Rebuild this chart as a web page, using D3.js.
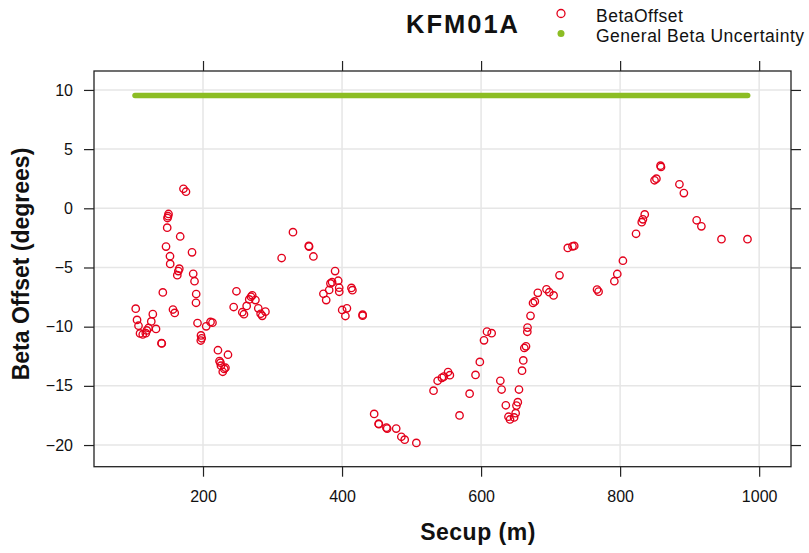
<!DOCTYPE html>
<html>
<head>
<meta charset="utf-8">
<script src="https://cdn.jsdelivr.net/npm/d3@7"></script>
<style>
  html, body { margin: 0; padding: 0; background: #fff; }
  svg { display: block; font-family: "Liberation Sans", Arial, Helvetica, sans-serif; }
</style>
</head>
<body>
<svg id="chart" width="809" height="553"></svg>
<script>
// ---------- data ----------
const title = "KFM01A";
const xLabel = "Secup (m)";
const yLabel = "Beta Offset (degrees)";
const seriesNames = ["BetaOffset", "General Beta Uncertainty"];

const xTicks = [200, 400, 600, 800, 1000];
const yTicks = [-20, -15, -10, -5, 0, 5, 10];
const xLimits = [43.2, 1045.8];
const yLimits = [-21.83, 11.6];

// BetaOffset: secup (m)
const secup = [
  103.2, 105.1, 107.2, 109.4, 113.3, 117.7, 119.2, 121.6, 125.6, 127.8,
  132.4, 140.3, 140.7, 142.2, 146.8, 148.5, 148.9, 149.7, 150.4, 152.5,
  152.8, 156.8, 159.3, 163.0, 164.5, 165.9, 167.2, 171.9, 175.5, 184.2,
  185.9, 187.8, 190.2, 189.9, 192.1, 197.1, 198.1, 196.8, 204.6, 210.8,
  213.6, 221.5, 235.9, 223.7, 225.1, 225.8, 230.6, 228.4, 232.3, 244.1,
  248.1, 256.5, 258.9, 262.8, 266.5, 269.0, 270.8, 275.4, 279.5, 282.9,
  285.2, 289.8, 313.1, 329.4, 352.1, 352.6, 358.8, 373.2, 377.2, 381.5,
  383.3, 385.7, 390.0, 394.5, 395.9, 396.0, 413.5, 414.9, 400.2, 407.0,
  404.8, 429.6, 429.6, 446.2, 452.6, 453.0, 463.8, 464.9, 477.9, 485.3,
  490.1, 506.9, 531.6, 537.5, 543.6, 546.4, 552.5, 555.1, 569.0, 583.5,
  592.0, 598.2, 604.2, 608.5, 615.2, 627.7, 629.5, 635.6, 639.4, 641.6,
  647.5, 649.7, 650.9, 652.8, 654.5, 658.9, 660.7, 662.2, 664.6, 666.5,
  666.8, 671.1, 674.7, 677.3, 681.6, 694.1, 698.1, 704.3, 712.8, 724.7,
  731.5, 734.0, 766.8, 769.0, 791.7, 795.9, 804.0, 822.9, 831.1, 832.8,
  835.4, 849.5, 852.2, 858.1, 858.8, 885.3, 891.7, 910.1, 916.9, 945.8,
  983.2
];
// BetaOffset: offset (degrees)
const betaOffset = [
  -8.48, -9.43, -9.92, -10.57, -10.66, -10.55, -10.32, -10.11, -9.56, -8.94,
  -10.19, -11.39, -11.42, -7.11, -3.23, -1.64, -0.82, -0.67, -0.48, -4.05,
  -4.70, -8.55, -8.84, -5.65, -5.30, -5.10, -2.38, 1.65, 1.40, -3.72,
  -5.53, -6.16, -7.24, -7.98, -9.69, -10.74, -10.98, -11.17, -9.97, -9.60,
  -9.66, -11.99, -12.37, -12.91, -13.04, -13.30, -13.57, -13.81, -13.47, -8.34,
  -7.01, -8.78, -8.95, -8.25, -7.70, -7.47, -7.35, -7.75, -8.45, -8.91,
  -9.08, -8.73, -4.20, -2.02, -3.18, -3.23, -4.07, -7.22, -7.75, -6.90,
  -6.35, -6.24, -5.30, -6.12, -6.71, -7.05, -6.73, -6.92, -8.59, -8.45,
  -9.10, -8.99, -9.07, -17.37, -18.20, -18.24, -18.53, -18.61, -18.61, -19.30,
  -19.55, -19.82, -15.41, -14.57, -14.32, -14.22, -13.83, -14.10, -17.50, -15.66,
  -14.08, -12.98, -11.15, -10.42, -10.55, -14.57, -15.31, -16.64, -17.61, -17.84,
  -17.67, -17.31, -16.67, -16.38, -15.31, -13.72, -12.85, -11.80, -11.66, -10.43,
  -10.08, -9.08, -8.00, -7.87, -7.14, -6.84, -7.09, -7.36, -5.66, -3.35,
  -3.21, -3.18, -6.86, -7.04, -6.16, -5.55, -4.43, -2.15, -1.17, -0.93,
  -0.52, 2.37, 2.50, 3.60, 3.49, 2.03, 1.29, -1.01, -1.52, -2.61,
  -2.61
];
// General Beta Uncertainty: constant band over the logged interval
const uncertaintySecup = [102.2, 983.5];
const uncertaintyValue = [9.53, 9.53];

// ---------- drawing ----------
const svg = d3.select("#chart");
const pLeft = 94, pRight = 791, pTop = 71, pBottom = 466.7;

const x = d3.scaleLinear().domain(xLimits).range([pLeft, pRight]);
const y = d3.scaleLinear().domain(yLimits).range([pBottom, pTop]);

const red = "#e3001b";
const green = "#8cbd24";
const gridColor = "#e6e6e6";

// grid
const grid = svg.append("g");
grid.selectAll("line.gx").data(xTicks).join("line").attr("class", "gx")
  .attr("x1", d => x(d)).attr("x2", d => x(d))
  .attr("y1", pTop).attr("y2", pBottom)
  .attr("stroke", gridColor).attr("stroke-width", 1.5);
grid.selectAll("line.gy").data(yTicks).join("line").attr("class", "gy")
  .attr("x1", pLeft).attr("x2", pRight)
  .attr("y1", d => y(d)).attr("y2", d => y(d))
  .attr("stroke", gridColor).attr("stroke-width", 1.5);

// axes (ticks on all four sides, labels on bottom and left)
const tickLen = 10;
const axB = svg.append("g").attr("transform", `translate(0,${pBottom})`)
  .call(d3.axisBottom(x).tickValues(xTicks).tickSize(tickLen).tickPadding(14).tickFormat(d3.format("d")));
const axT = svg.append("g").attr("transform", `translate(0,${pTop})`)
  .call(d3.axisTop(x).tickValues(xTicks).tickSize(tickLen).tickFormat(""));
const axL = svg.append("g").attr("transform", `translate(${pLeft},0)`)
  .call(d3.axisLeft(y).tickValues(yTicks).tickSize(tickLen).tickPadding(11).tickFormat(d3.format("d")));
const axR = svg.append("g").attr("transform", `translate(${pRight},0)`)
  .call(d3.axisRight(y).tickValues(yTicks).tickSize(tickLen).tickFormat(""));
[axB, axT, axL, axR].forEach(a => {
  a.select(".domain").remove();
  a.selectAll(".tick line").attr("stroke", "#222").attr("stroke-width", 1.2);
  a.selectAll("text").attr("fill", "#111").style("font-size", "16px")
    .style("font-family", "'Liberation Sans', Arial, sans-serif");
});

// frame
svg.append("rect").attr("x", pLeft).attr("y", pTop)
  .attr("width", pRight - pLeft).attr("height", pBottom - pTop)
  .attr("fill", "none").attr("stroke", "#222").attr("stroke-width", 1.3);

// uncertainty band (green)
svg.append("line")
  .attr("x1", x(uncertaintySecup[0])).attr("x2", x(uncertaintySecup[1]))
  .attr("y1", y(uncertaintyValue[0])).attr("y2", y(uncertaintyValue[1]))
  .attr("stroke", green).attr("stroke-width", 5.5).attr("stroke-linecap", "round");

// BetaOffset points
const pts = secup.map((s, i) => ({ s, v: betaOffset[i] }));
svg.append("g").selectAll("circle").data(pts).join("circle")
  .attr("cx", d => x(d.s)).attr("cy", d => y(d.v)).attr("r", 3.7)
  .attr("fill", "none").attr("stroke", red).attr("stroke-width", 1.35);

// title
svg.append("text").attr("x", 463).attr("y", 33).attr("text-anchor", "middle")
  .style("font-size", "25.5px").style("font-weight", "bold").style("letter-spacing", "2px")
  .attr("fill", "#111").text(title);

// legend
const lg = svg.append("g");
lg.append("circle").attr("cx", 561).attr("cy", 13.5).attr("r", 4)
  .attr("fill", "none").attr("stroke", red).attr("stroke-width", 1.3);
lg.append("circle").attr("cx", 561).attr("cy", 33.5).attr("r", 3.5).attr("fill", green);
lg.append("text").attr("x", 596).attr("y", 21.5).style("font-size", "17.5px")
  .style("letter-spacing", "0.5px").attr("fill", "#111").text(seriesNames[0]);
lg.append("text").attr("x", 596).attr("y", 41.5).style("font-size", "17.5px")
  .style("letter-spacing", "0.5px").attr("fill", "#111").text(seriesNames[1]);

// axis labels
svg.append("text").attr("x", 478).attr("y", 540).attr("text-anchor", "middle")
  .style("font-size", "23px").style("font-weight", "bold").style("letter-spacing", "0.5px")
  .attr("fill", "#111").text(xLabel);
svg.append("text").attr("transform", `translate(29,${264}) rotate(-90)`)
  .attr("text-anchor", "middle")
  .style("font-size", "23px").style("font-weight", "bold").attr("fill", "#111").text(yLabel);
</script>
</body>
</html>
